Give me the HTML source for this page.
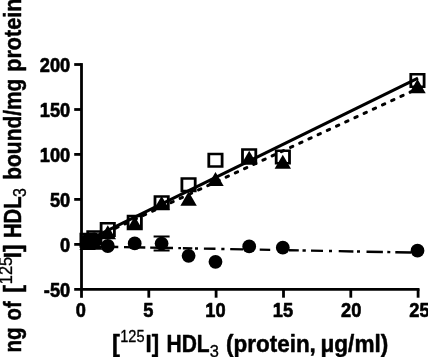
<!DOCTYPE html>
<html><head><meta charset="utf-8"><style>html,body{margin:0;padding:0;background:#fff;overflow:hidden}</style></head>
<body>
<svg width="428" height="357" viewBox="0 0 428 357" style="display:block">
<rect width="428" height="357" fill="#fff"/>
<g stroke="#000" stroke-width="2.8" fill="none" stroke-linecap="butt">
<path d="M81.5 63.1V297.8"/>
<path d="M74.2 289.3H419.5"/>
<path d="M74.2 64.5H81.5"/>
<path d="M74.2 109.5H81.5"/>
<path d="M74.2 154.4H81.5"/>
<path d="M74.2 199.4H81.5"/>
<path d="M74.2 244.4H81.5"/>
<path d="M148.8 289.3V297.7"/>
<path d="M216.1 289.3V297.7"/>
<path d="M283.5 289.3V297.7"/>
<path d="M350.8 289.3V297.7"/>
<path d="M418.1 289.3V297.7"/>
</g>
<g stroke="#000" fill="none">
<path d="M81.3 243.4L418 78.2" stroke-width="3.1"/>
<path d="M81.3 244L418 88.5" stroke-width="3" stroke-linecap="round" stroke-dasharray="2.6 7.53" stroke-dashoffset="2.6"/>
<path d="M84.0 246.34L118.3 246.98M124.0 247.09L145.3 247.49M150.2 247.59L173.0 248.02M178.3 248.12L181.0 248.17M182.9 248.21L192.3 248.38M195.0 248.43L198.0 248.49M203.9 248.60L215.5 248.82M221.3 248.93L224.5 248.99M230.2 249.10L243.0 249.34M259.7 249.66L270.2 249.86M289.0 250.21L298.8 250.40M302.5 250.47L305.8 250.53M311.0 250.63L323.0 250.85M329.0 250.97L332.0 251.02M338.7 251.15L353.4 251.43M357.0 251.50L360.0 251.55M366.5 251.68L382.9 251.99M387.3 252.07L390.3 252.13M395.3 252.22L411.0 252.52" stroke-width="2.4"/>
</g>
<path d="M153.6 236.6H169.6M153.6 250.6H169.6M161.6 236.6V250.6" stroke="#000" stroke-width="2" fill="none"/>
<circle cx="87.6" cy="240.4" r="6.9" fill="#000"/>
<circle cx="94.3" cy="239.4" r="6.9" fill="#000"/>
<circle cx="107.8" cy="246.0" r="6.9" fill="#000"/>
<circle cx="134.7" cy="243.4" r="6.9" fill="#000"/>
<circle cx="161.6" cy="243.6" r="6.9" fill="#000"/>
<circle cx="188.6" cy="255.8" r="6.9" fill="#000"/>
<circle cx="215.5" cy="261.8" r="6.9" fill="#000"/>
<circle cx="249.2" cy="246.4" r="6.9" fill="#000"/>
<circle cx="282.8" cy="247.7" r="6.9" fill="#000"/>
<circle cx="417.5" cy="250.7" r="6.9" fill="#000"/>
<path d="M87.6 235.8L95.8 249.9H79.4Z" fill="#000"/>
<path d="M94.3 235.7L102.5 249.8H86.1Z" fill="#000"/>
<path d="M107.8 225.2L116.0 239.3H99.6Z" fill="#000"/>
<path d="M134.7 216.2L142.9 230.3H126.5Z" fill="#000"/>
<path d="M161.6 195.9L169.8 210.0H153.4Z" fill="#000"/>
<path d="M188.6 191.6L196.8 205.7H180.4Z" fill="#000"/>
<path d="M215.5 171.9L223.7 186.0H207.3Z" fill="#000"/>
<path d="M249.2 150.7L257.4 164.8H241.0Z" fill="#000"/>
<path d="M282.8 154.7L291.0 168.8H274.6Z" fill="#000"/>
<path d="M417.5 79.1L425.7 93.2H409.3Z" fill="#000"/>
<path fill-rule="evenodd" fill="#000" d="M79.5 232.8H95.6V247.8H79.5ZM82.3 235.3V245.3H92.8V235.3Z"/>
<path fill-rule="evenodd" fill="#000" d="M86.3 230.3H102.4V245.3H86.3ZM89.1 232.8V242.8H99.6V232.8Z"/>
<path fill-rule="evenodd" fill="#000" d="M99.7 221.9H115.8V236.9H99.7ZM102.5 224.4V234.4H113.0V224.4Z"/>
<path fill-rule="evenodd" fill="#000" d="M126.7 214.8H142.8V229.8H126.7ZM129.5 217.3V227.3H140.0V217.3Z"/>
<path fill-rule="evenodd" fill="#000" d="M153.6 195.2H169.7V210.2H153.6ZM156.4 197.7V207.7H166.9V197.7Z"/>
<path fill-rule="evenodd" fill="#000" d="M180.5 177.2H196.6V192.2H180.5ZM183.3 179.7V189.7H193.8V179.7Z"/>
<path fill-rule="evenodd" fill="#000" d="M207.4 152.7H223.5V167.7H207.4ZM210.2 155.2V165.2H220.7V155.2Z"/>
<path fill-rule="evenodd" fill="#000" d="M241.1 148.3H257.2V163.3H241.1ZM243.9 150.8V160.8H254.4V150.8Z"/>
<path fill-rule="evenodd" fill="#000" d="M274.8 149.5H290.9V164.5H274.8ZM277.6 152.0V162.0H288.1V152.0Z"/>
<path fill-rule="evenodd" fill="#000" d="M409.4 73.1H425.5V88.1H409.4ZM412.2 75.6V85.6H422.7V75.6Z"/>
<g font-family="'Liberation Sans', Arial, sans-serif" font-weight="bold" font-size="19" fill="#000" stroke="#000" stroke-width="0.6" stroke-linejoin="round">
<text transform="translate(70.2 71.6) scale(0.96 1.06)" text-anchor="end">200</text>
<text transform="translate(70.2 116.6) scale(0.96 1.06)" text-anchor="end">150</text>
<text transform="translate(70.2 161.5) scale(0.96 1.06)" text-anchor="end">100</text>
<text transform="translate(70.2 206.5) scale(0.96 1.06)" text-anchor="end">50</text>
<text transform="translate(70.2 251.5) scale(0.96 1.06)" text-anchor="end">0</text>
<text transform="translate(70.2 296.5) scale(0.96 1.06)" text-anchor="end">-50</text>
<text transform="translate(80.9 317.2) scale(0.96 1.06)" text-anchor="middle">0</text>
<text transform="translate(148.2 317.2) scale(0.96 1.06)" text-anchor="middle">5</text>
<text transform="translate(215.5 317.2) scale(0.96 1.06)" text-anchor="middle">10</text>
<text transform="translate(282.9 317.2) scale(0.96 1.06)" text-anchor="middle">15</text>
<text transform="translate(351.2 317.2) scale(0.96 1.06)" text-anchor="middle">20</text>
<text transform="translate(419.5 317.2) scale(0.96 1.06)" text-anchor="middle">25</text>
</g>
<g font-family="'Liberation Sans', Arial, sans-serif" font-weight="bold" font-size="22" fill="#000" stroke="#000" stroke-width="0.45" stroke-linejoin="round" style="font-kerning:none">
<text transform="translate(111.90 352.0) scale(1.080 1.05)">[</text>
<text transform="translate(120.20 341.5) scale(0.940 1.05)" font-weight="normal" font-size="15.5" stroke-width="0.3">125</text>
<text transform="translate(145.52 352.0) scale(1.006 1.05)">I]</text>
<text transform="translate(166.50 352.0) scale(0.954 1.05)">HDL</text>
<text transform="translate(209.87 356.6) scale(1.061 1.05)" font-weight="normal" font-size="15.5" stroke-width="0.3">3</text>
<text transform="translate(225.98 352.0) scale(1.022 1.05)">(protein,</text>
<text transform="translate(320.51 352.0) scale(1.027 1.05)">μg/ml)</text>
</g>
<g transform="translate(20.7 352) rotate(-90)" font-family="'Liberation Sans', Arial, sans-serif" font-weight="bold" font-size="21.5" fill="#000" stroke="#000" stroke-width="0.45" stroke-linejoin="round" style="font-kerning:none">
<text transform="translate(-0.56 0.0) scale(0.957 1.1)">ng</text>
<text transform="translate(31.54 0.0) scale(0.940 1.1)">of</text>
<text transform="translate(59.26 0.0) scale(1.080 1.1)">[</text>
<text transform="translate(67.86 -8.8) scale(1.020 1.1)" font-weight="normal" font-size="16" stroke-width="0.3">125</text>
<text transform="translate(93.71 0.0) scale(1.039 1.1)">I]</text>
<text transform="translate(113.98 0.0) scale(0.940 1.1)">HDL</text>
<text transform="translate(155.09 5.3) scale(1.002 1.1)" font-weight="normal" font-size="16" stroke-width="0.3">3</text>
<text transform="translate(172.32 0.0) scale(0.973 1.1)">bound/mg</text>
<text transform="translate(280.33 0.0) scale(1.002 1.1)">protein</text>
</g>
</svg>
</body></html>
